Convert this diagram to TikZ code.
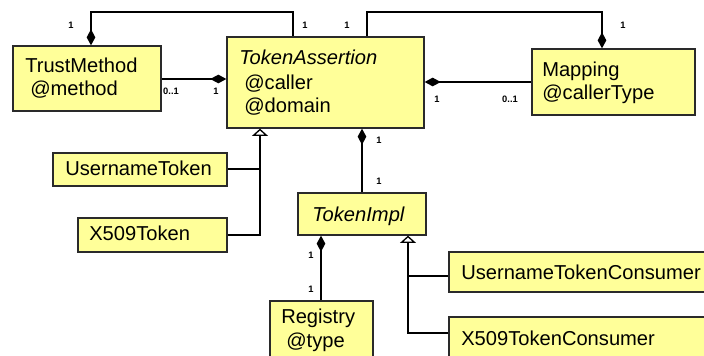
\documentclass[tikz,border=0pt]{standalone}
\usepackage{fontspec}
\setmainfont{Liberation Sans}
\usetikzlibrary{arrows.meta,fit}
\definecolor{classfill}{HTML}{FFFF99}
\definecolor{classline}{HTML}{2A2A2A}

\begin{document}
\begin{tikzpicture}[x=0.75pt,y=-0.75pt,
  box/.style={draw=classline, fill=classfill, line width=1pt, inner sep=0pt},
  txt/.style={anchor=base west, inner sep=0pt, font=\fontsize{15.1}{17}\selectfont},
  mult/.style={inner sep=0pt, font=\fontsize{7}{8}\selectfont\bfseries},
  link/.style={draw=black, line width=1pt},
  comp/.style={link, {Diamond[length=12pt,width=6.5pt]}-},
  gen/.style={link, -{Triangle[length=5.5pt,width=12pt,fill=white]}}
]
\useasboundingbox (0,0) rectangle (704,356);
\clip (0,0) rectangle (704,356);

% class boxes
\node[box, fit={(13,46) (161,111)}]   (tm)  {};
\node[box, fit={(227,37) (424,128)}]  (ta)  {};
\node[box, fit={(532,49) (695,115)}]  (mp)  {};
\node[box, fit={(53,153) (227,186)}]  (ut)  {};
\node[box, fit={(78,218) (227,252)}]  (xt)  {};
\node[box, fit={(298,193) (426,235)}] (ti)  {};
\node[box, fit={(270,301) (373,372)}] (rg)  {};
\node[box, fit={(449,252) (724,292)}] (utc) {};
\node[box, fit={(449,317) (724,372)}] (xtc) {};

% class texts
\node[txt] (tm1) at (25,73) {TrustMethod};
\node[txt] (tm2) at (30,96) {@method};
\node[txt] (ta1) at (239,65) {\itshape TokenAssertion};
\node[txt] (ta2) at (244,90) {@caller};
\node[txt] (ta3) at (244,113) {@domain};
\node[txt] (mp1) at (542,77) {Mapping};
\node[txt] (mp2) at (542,100) {@callerType};
\node[txt] (ut1) at (65,176) {UsernameToken};
\node[txt] (xt1) at (89,241) {X509Token};
\node[txt] (ti1) at (312,222) {\itshape TokenImpl};
\node[txt] (rg1) at (281,324) {Registry};
\node[txt] (rg2) at (286,348) {@type};
\node[txt] (utc1) at (461,280) {UsernameTokenConsumer};
\node[txt] (xtc1) at (461,345) {X509TokenConsumer};

% bend points and routing lines
\coordinate (bl1) at (91,12);
\coordinate (bl2) at (293,12);
\coordinate (br1) at (367,12);
\coordinate (br2) at (602,12);
\coordinate (hl) at (0,79);
\coordinate (hr) at (0,82);
\coordinate (va) at (362,0);
\coordinate (vr) at (321,0);
\coordinate (ga) at (260,0);
\coordinate (gi) at (408,0);
\coordinate (gt) at (0,169);
\coordinate (gxt) at (0,235);
\coordinate (gu) at (0,276);
\coordinate (gx) at (0,333);

% compositions
\draw[comp] (tm.north -| bl1) -- (bl1) -- (bl2) -- (ta.north -| bl2);
\draw[comp] (mp.north -| br2) -- (br2) -- (br1) -- (ta.north -| br1);
\draw[comp] (ta.west |- hl) -- (tm.east |- hl);
\draw[comp] (ta.east |- hr) -- (mp.west |- hr);
\draw[comp] (ta.south -| va) -- (ti.north -| va);
\draw[comp] (ti.south -| vr) -- (rg.north -| vr);

% generalizations
\draw[link] (ut.east |- gt) -- (gt -| ga);
\draw[gen] (xt.east |- gxt) -| (ta.south -| ga);
\draw[link] (utc.west |- gu) -- (gu -| gi);
\draw[gen] (xtc.west |- gx) -| (ti.south -| gi);

% multiplicities
\node[mult] (m1)  at (71,25)  {1};
\node[mult] (m2)  at (305,25) {1};
\node[mult] (m3)  at (347,25) {1};
\node[mult] (m4)  at (623,25) {1};
\node[mult] (m5)  at (171,91) {0..1};
\node[mult] (m6)  at (216,91) {1};
\node[mult] (m7)  at (437,99) {1};
\node[mult] (m8)  at (510,99) {0..1};
\node[mult] (m9)  at (379,140) {1};
\node[mult] (m10) at (379,181) {1};
\node[mult] (m11) at (311,255) {1};
\node[mult] (m12) at (311,289) {1};
\end{tikzpicture}
\end{document}
